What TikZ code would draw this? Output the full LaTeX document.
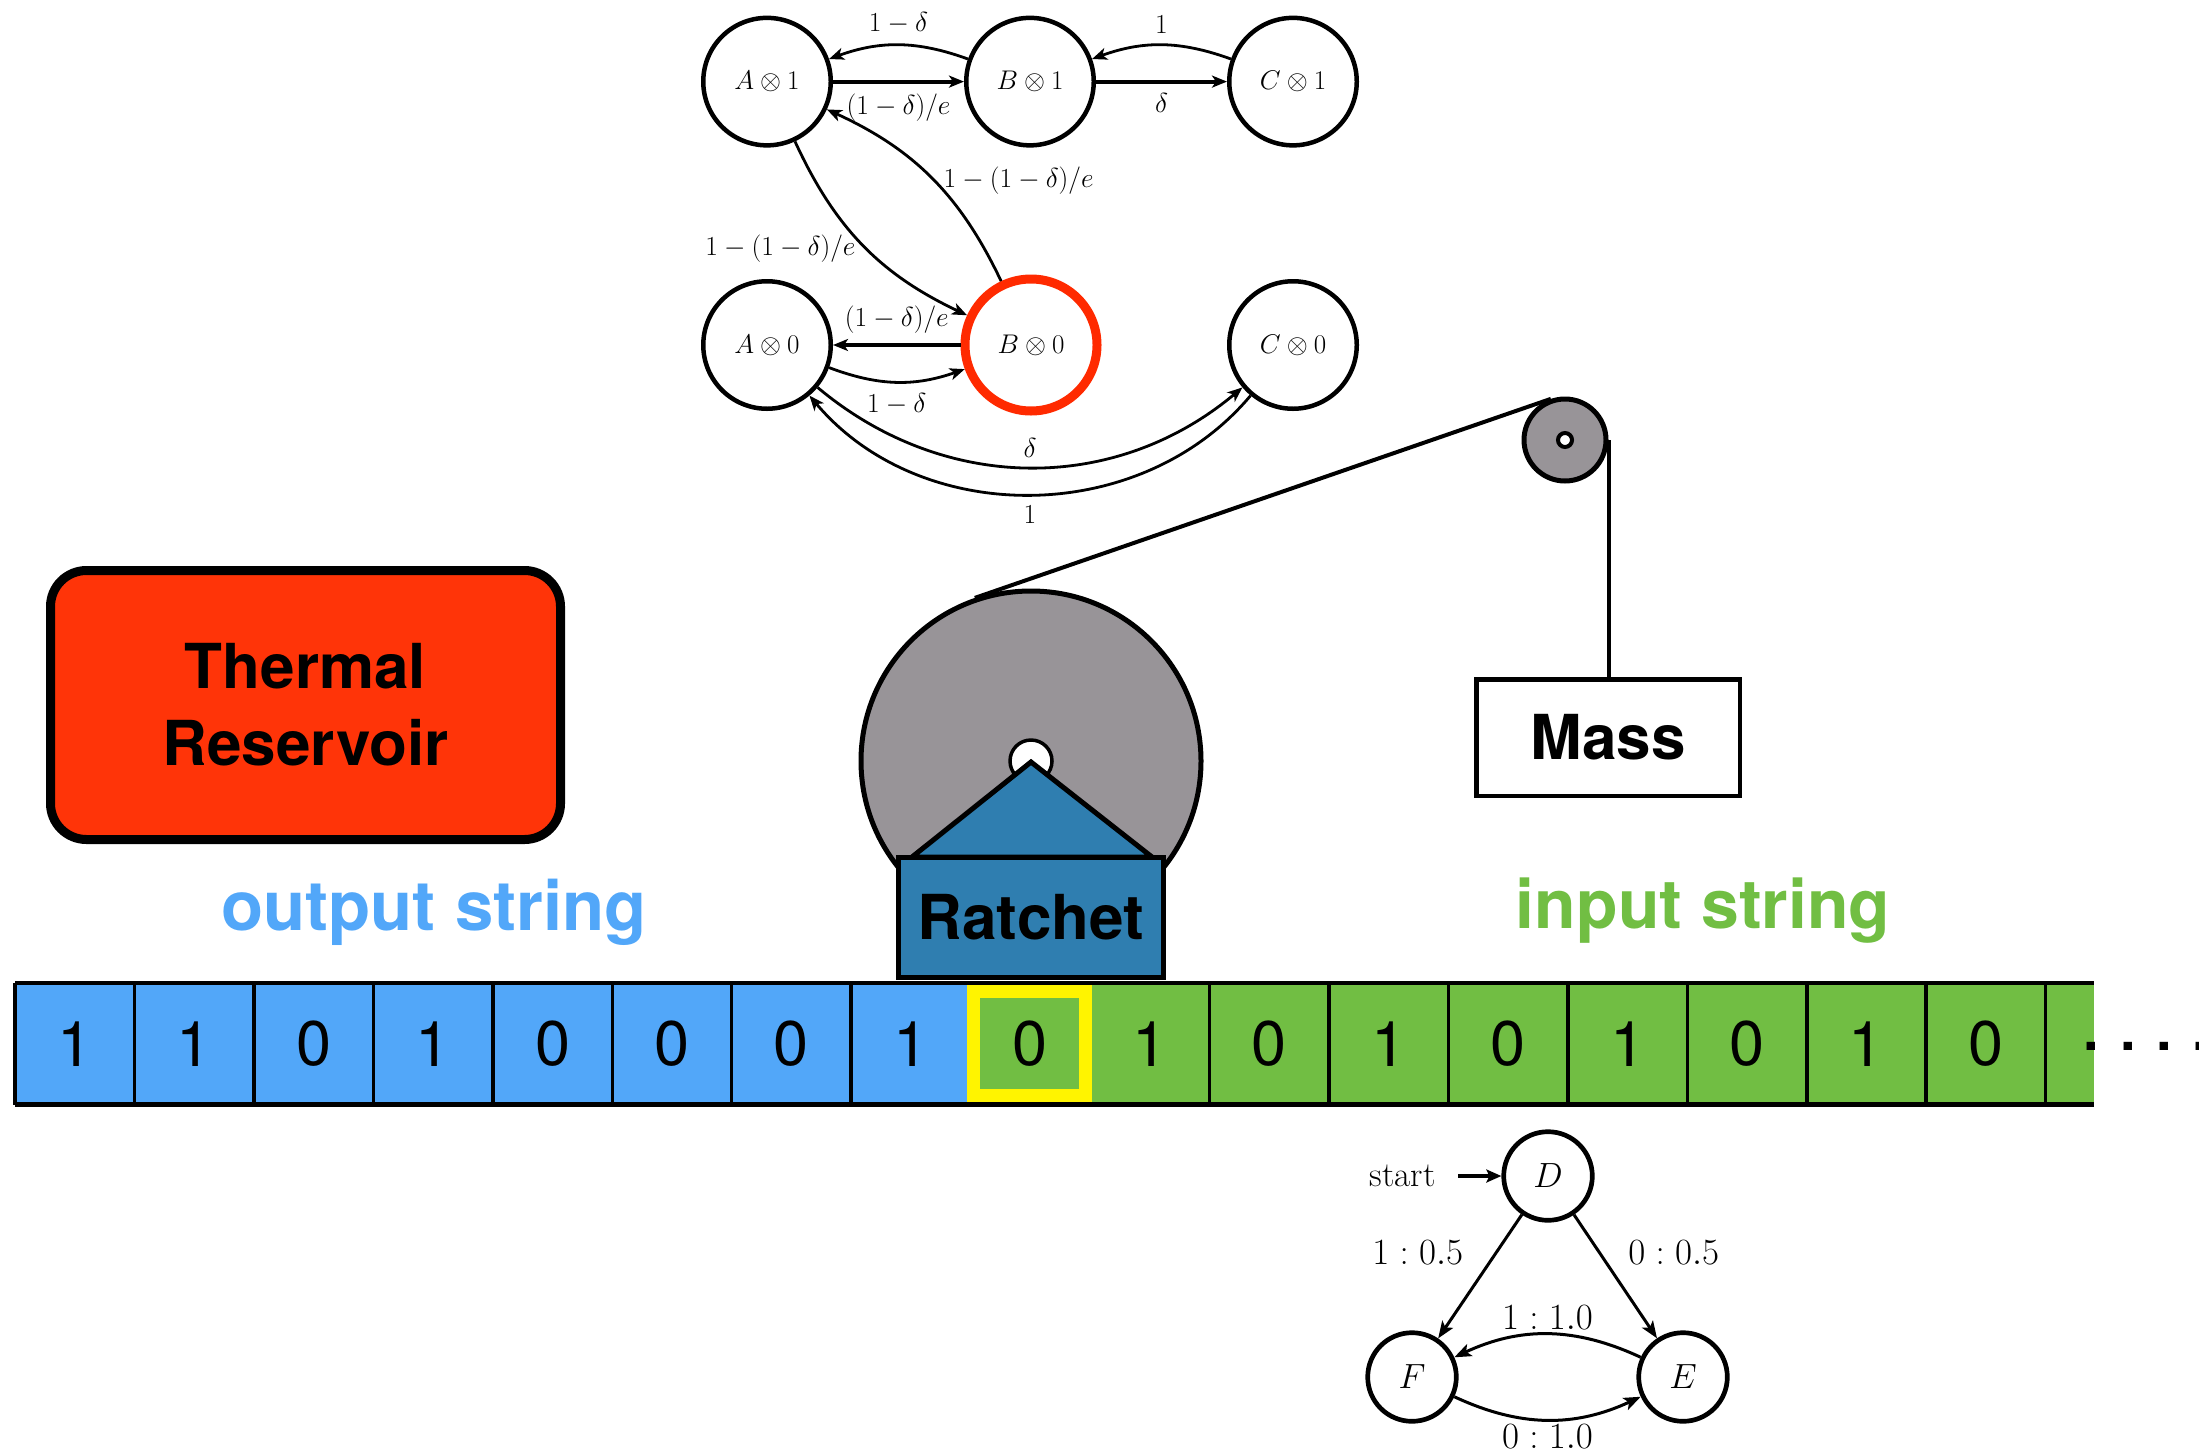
\RequirePackage{fix-cm}
\documentclass[tikz,border=0pt]{standalone}
\usepackage{fontspec}
\newfontfamily\heros{TeX Gyre Heros}
\usetikzlibrary{arrows.meta,calc}

\definecolor{thermred}{HTML}{FF3408}
\definecolor{outblue}{HTML}{52A7F9}
\definecolor{ingreen}{HTML}{71BE43}
\definecolor{hiyellow}{HTML}{FFF400}
\definecolor{ratchetblue}{HTML}{2F7EB0}
\definecolor{wheelgray}{HTML}{989498}
\definecolor{activered}{HTML}{FF2A00}

\begin{document}
\begin{tikzpicture}[x=1pt,y=1pt,
  topstate/.style={circle, draw, line width=4.5pt, minimum size=127.5pt, inner sep=0pt,
    font=\fontsize{27}{31}\selectfont},
  activestate/.style={topstate, draw=activered, line width=9pt, minimum size=132pt},
  tedge/.style={line width=2.8pt, -{Stealth[length=15pt,width=12pt,inset=4pt]}},
  tedgethick/.style={tedge, line width=4pt},
  tlabel/.style={font=\fontsize{27.5}{32}\selectfont, inner sep=10pt},
  bstate/.style={circle, draw, line width=4.7pt, minimum size=88.6pt, inner sep=0pt,
    font=\fontsize{35}{40}\selectfont},
  bedge/.style={line width=3pt, -{Stealth[length=17pt,width=13pt,inset=4pt]}},
  blabel/.style={font=\fontsize{37}{42}\selectfont},
  bigword/.style={font=\heros\bfseries\fontsize{62}{77}\selectfont},
  cell/.style={rectangle, minimum width=119.45pt, minimum height=121.5pt, inner sep=0pt,
    outer sep=0pt, font=\heros\fontsize{63}{70}\selectfont},
  tapeline/.style={line width=4.5pt},
  divider/.style={line width=3.5pt},
  rope/.style={line width=4pt},
]
\useasboundingbox (0,0) rectangle (2199,-1451);

% ---------- transition diagram of the ratchet ----------
\node[topstate] (A1) at (767,-81.6) {$A\otimes 1$};
\node[topstate] (B1) at (1030,-81.6) {$B\otimes 1$};
\node[topstate] (C1) at (1293,-81.6) {$C\otimes 1$};
\node[topstate] (A0) at (767,-345) {$A\otimes 0$};
\node[activestate] (B0) at (1031,-345) {$B\otimes 0$};
\node[topstate] (C0) at (1293,-345) {$C\otimes 0$};

\draw[tedgethick] (A1) -- node[tlabel, below] {$(1-\delta)/e$} (B1);
\draw[tedge] (B1) to[bend right=20] node[tlabel, above] {$1-\delta$} (A1);
\draw[tedgethick] (B1) -- node[tlabel, below] {$\delta$} (C1);
\draw[tedge] (C1) to[bend right=20] node[tlabel, above] {$1$} (B1);
\draw[tedge] (A1) to[bend right=20] node[tlabel, pos=0.52, anchor=east, inner sep=0pt, xshift=-10pt, yshift=0pt] {$1-(1-\delta)/e$} (B0);
\draw[tedge] (B0) to[bend right=20] node[tlabel, pos=0.5, anchor=west, inner sep=0pt, xshift=11pt, yshift=-3pt] {$1-(1-\delta)/e$} (A1);
\draw[tedgethick] (B0) -- node[tlabel, above] {$(1-\delta)/e$} (A0);
\draw[tedge] (A0) to[bend right=20] node[tlabel, below] {$1-\delta$} (B0);
\draw[tedge] (A0) to[bend right=40] node[tlabel, above, inner sep=8pt] {$\delta$} (C0);
\draw[tedge] (C0) to[bend left=50] node[tlabel, below] {$1$} (A0);

% ---------- rope, pulley and mass ----------
\node[circle, draw, fill=wheelgray, line width=5pt, minimum size=340pt, inner sep=0pt] (wheel) at (1031,-761) {};
\node[circle, draw, fill=wheelgray, line width=5pt, minimum size=82pt, inner sep=0pt] (pulley) at (1565,-440) {};
\node[circle, draw, fill=white, line width=4pt, minimum size=14pt, inner sep=0pt] (pulleyhub) at (pulley.center) {};
\draw[rope] (wheel.109) -- (pulley.109);
\node[rectangle, draw, line width=4.5pt, minimum width=263.5pt, minimum height=116.5pt, inner sep=10pt,
  bigword] (mass) at (1608,-737.5) {Mass};
\draw[rope] (pulley.east) -- (pulley.east |- mass.north);

\node[circle, draw, fill=white, line width=3.5pt, minimum size=42pt, inner sep=0pt] (hub) at (wheel.center) {};

% ---------- ratchet ----------
\draw[fill=ratchetblue, line width=5pt] (912,-857) -- (1031,-762) -- (1152,-857) -- cycle;
\node[rectangle, draw, fill=ratchetblue, line width=5pt, minimum width=265pt, minimum height=120pt,
  inner sep=0pt, bigword] (ratchet) at (1031,-917.5) {Ratchet};

% ---------- thermal reservoir ----------
\node[rectangle, draw, fill=thermred, line width=9pt, rounded corners=36pt, minimum width=510pt,
  minimum height=269pt, inner sep=0pt, align=center, bigword] (reservoir) at (305.5,-705) {Thermal\\Reservoir};

% ---------- string labels ----------
\node[anchor=base, text=outblue, font=\heros\bfseries\fontsize{69}{80}\selectfont] (outlabel) at (434,-930) {output string};
\node[anchor=base, text=ingreen, font=\heros\bfseries\fontsize{68}{80}\selectfont] (inlabel) at (1703,-928) {input string};

% ---------- tape ----------
\foreach \d [count=\i from 0] in {1,1,0,1,0,0,0,1} {
  \node[cell, fill=outblue] (out\i) at ({15+(\i+0.5)*119.45},-1043.75) {\d};
}
\node[cell, fill=ingreen] (cur) at ({15+8.5*119.45},-1043.75) {0};
\foreach \d [count=\i from 9] in {1,0,1,0,1,0,1,0} {
  \node[cell, fill=ingreen] (in\i) at ({15+(\i+0.5)*119.45},-1043.75) {\d};
}
\fill[ingreen] ({15+17*119.45},-983) rectangle (2093.5,-1104.5);
\foreach \i in {0,...,17} {
  \draw[divider] ({15+\i*119.45},-983) -- ({15+\i*119.45},-1104.5);
}
\draw[tapeline] (15,-983) -- (2093.5,-983);
\draw[tapeline] (15,-1104.5) -- (2093.5,-1104.5);
\draw[hiyellow, line width=13pt] (973.5,-991.5) rectangle (1085,-1095.5);
\node[anchor=base west, inner sep=0pt, font=\heros\bfseries\fontsize{56}{60}\selectfont] (more) at (2083.5,-1050.5) {. . . .};

% ---------- input process ----------
\node[bstate] (D) at (1548,-1176) {$D$};
\node[bstate] (F) at (1412,-1377) {$F$};
\node[bstate] (E) at (1683,-1377) {$E$};
\node[anchor=base, font=\fontsize{35}{40}\selectfont] (start) at (1402.5,-1186) {start};
\coordinate (startarrow) at (1458,-1176);
\draw[line width=4pt, -{Stealth[length=15pt,width=13pt,inset=3pt]}] (startarrow) -- (D);
\draw[bedge] (D) -- node[blabel, above left, xshift=-12pt, yshift=7pt] {$1:0.5$} (F);
\draw[bedge] (D) -- node[blabel, above right, xshift=8pt, yshift=7pt] {$0:0.5$} (E);
\draw[bedge] (E) to[bend right=25] node[blabel, above] {$1:1.0$} (F);
\draw[bedge] (F) to[bend right=25] node[blabel, below] {$0:1.0$} (E);
\end{tikzpicture}
\end{document}
